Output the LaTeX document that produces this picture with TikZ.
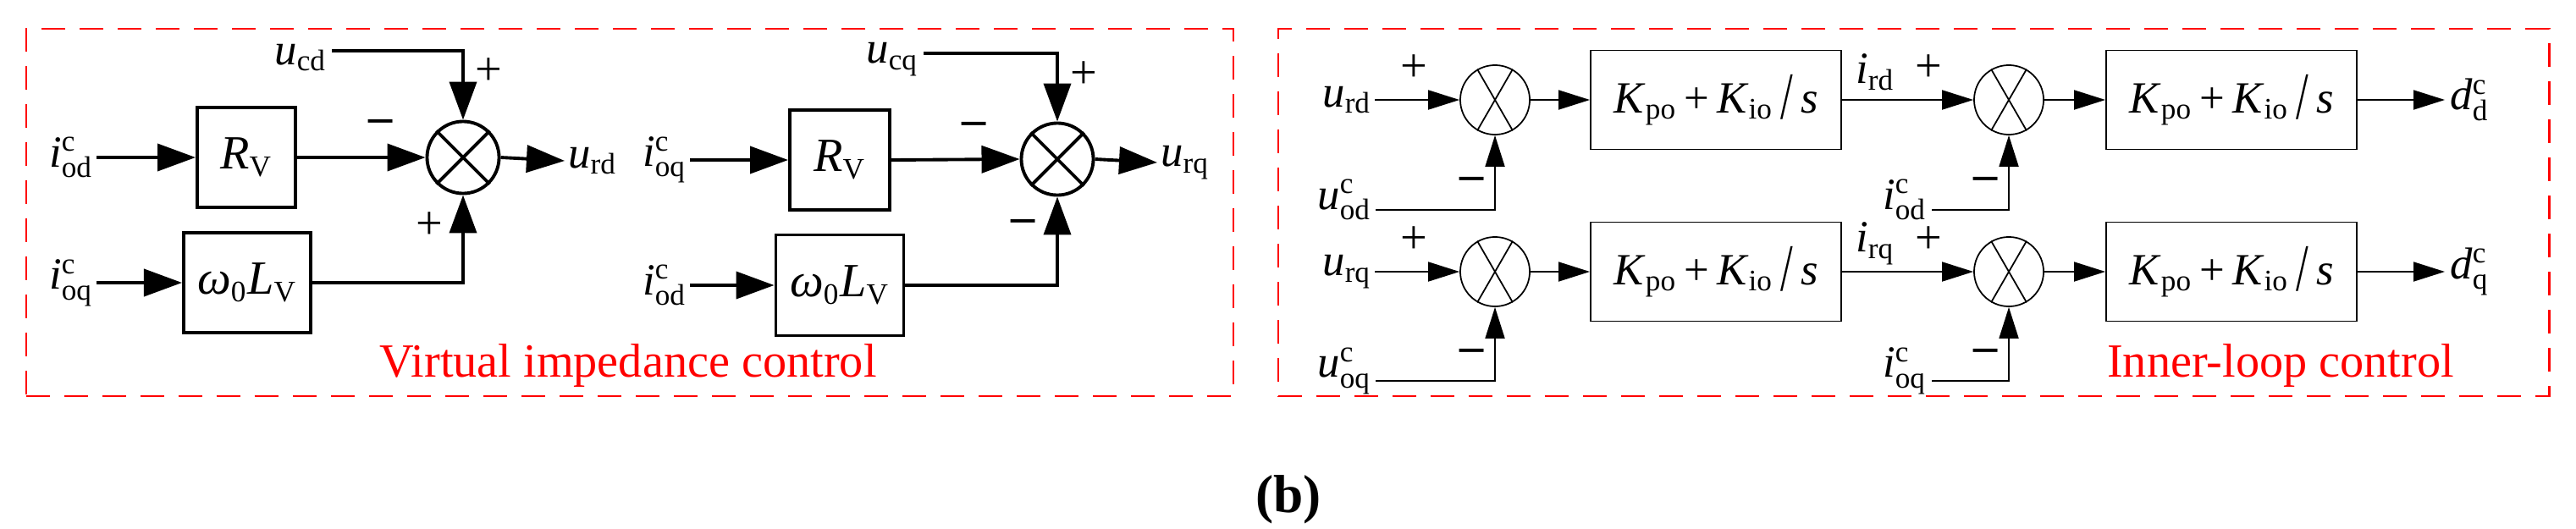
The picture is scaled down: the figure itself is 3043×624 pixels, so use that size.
\documentclass[tikz,border=0pt]{standalone}
\usepackage{fontspec}
\setmainfont{Liberation Serif}
\usetikzlibrary{arrows.meta}
\newcommand\ssz{\fontsize{10}{10}\selectfont}
\newcommand\sv[3]{\textit{#1}$^{\mbox{\ssz #2}}_{\mbox{\ssz #3}}$}
\newcommand\subv[2]{\textit{#1}$_{\mbox{\ssz #2}}$}
\newcommand\pit{\subv{K}{po}\,+\,\subv{K}{io}\,\raisebox{-2pt}{\scalebox{1}[1.5]{/}}\,\textit{s}}
\begin{document}
\begin{tikzpicture}[x=0.01cm,y=-0.01cm,
  lbl/.style={font=\fontsize{15}{17}\selectfont,inner sep=1pt},
  sgn/.style={font=\fontsize{16}{18}\selectfont,inner sep=0pt},
  thk/.style={line width=1.1pt},
  thn/.style={line width=0.5pt},
  bA/.style={-{Triangle[length=0.45cm,width=0.32cm]}},
  bB/.style={-{Triangle[length=0.37cm,width=0.23cm]}},
  sumA/.style={draw,circle,thk,minimum size=0.85cm,inner sep=0pt},
  sumB/.style={draw,circle,thn,minimum size=0.82cm,inner sep=0pt},
  blkA/.style={draw,thk,inner sep=0pt,font=\fontsize{16}{18}\selectfont},
  blkB/.style={draw,thn,minimum width=2.96cm,minimum height=1.17cm,inner sep=0pt,font=\fontsize{15}{17}\selectfont},
  panel/.style={draw=red,line width=0.6pt,dash pattern=on 0.28cm off 0.17cm},
  title/.style={text=red,font=\fontsize{16}{18}\selectfont}]
\useasboundingbox (0,0) rectangle (3043,624);
% panels
\node[panel,minimum width=14.26cm,minimum height=4.34cm] (P1) at (744,251) {};
\node[panel,minimum width=15.01cm,minimum height=4.34cm] (P2) at (2260.5,251) {};
\node[title] (T1) at (742,432) {Virtual impedance control};
\node[title] (T2) at (2694,432) {Inner-loop control};
\node[font=\bfseries\fontsize{18}{20}\selectfont] (bl) at (1522,590) {(b)};
% ---------- group A
\node[sumA] (c1) at (547,186) {};
\draw[thk] (c1.45)--(c1.225) (c1.135)--(c1.315);
\node[blkA,minimum width=1.16cm,minimum height=1.18cm] (R1) at (291,186) {\subv{R}{V}};
\node[blkA,minimum width=1.50cm,minimum height=1.18cm] (W1) at (292,334) {\textit{ω}$_{\mbox{\ssz 0}}$\subv{L}{V}};
\node[lbl,anchor=east] (i1) at (114,186) {\sv{i}{c}{od}};
\node[lbl,anchor=east] (i2) at (114,334) {\sv{i}{c}{oq}};
\node[lbl,anchor=east] (ucd) at (390,68) {\subv{u}{cd}};
\coordinate (k1) at (392,60);
\node[lbl,anchor=west] (urd) at (667,190) {\subv{u}{rd}};
\draw[thk,bA] (i1.east) -- (R1.west);
\draw[thk,bA] (i2.east) -- (W1.west);
\draw[thk,bA] (R1.east) -- (c1.west);
\draw[thk,bA] (k1) -| (c1.north);
\draw[thk,bA] (W1.east) -| (c1.south);
\draw[thk,bA] (c1.east) -- (urd.west);
\node[sgn] (m1) at (450,149) {\textbf{–}};
\node[sgn] (p1) at (577,85) {+};
\node[sgn] (p2) at (507,267) {+};
% ---------- group B
\node[sumA] (c2) at (1249,188) {};
\draw[thk] (c2.45)--(c2.225) (c2.135)--(c2.315);
\node[blkA,minimum width=1.18cm,minimum height=1.18cm] (R2) at (992,189) {\subv{R}{V}};
\node[blkA,minimum width=1.51cm,minimum height=1.19cm] (W2) at (992,337) {\textit{ω}$_{\mbox{\ssz 0}}$\subv{L}{V}};
\node[lbl,anchor=east] (i3) at (815,189) {\sv{i}{c}{oq}};
\node[lbl,anchor=east] (i4) at (815,337) {\sv{i}{c}{od}};
\node[lbl,anchor=east] (ucq) at (1089,70) {\subv{u}{cq}};
\coordinate (k2) at (1091,63);
\node[lbl,anchor=west] (urq) at (1367,192) {\subv{u}{rq}};
\draw[thk,bA] (i3.east) -- (R2.west);
\draw[thk,bA] (i4.east) -- (W2.west);
\draw[thk,bA] (R2.east) -- (c2.west);
\draw[thk,bA] (k2) -| (c2.north);
\draw[thk,bA] (W2.east) -| (c2.south);
\draw[thk,bA] (c2.east) -- (urq.west);
\node[sgn] (m2) at (1151,152) {\textbf{–}};
\node[sgn] (p3) at (1280,89) {+};
\node[sgn] (m3) at (1209,267) {\textbf{–}};
% ---------- inner loop
\foreach \r/\y/\ya/\yb/\ur/\uo/\ir/\io/\dd in {1/118/236/248/rd/od/rd/od/d, 2/321/438/450/rq/oq/rq/oq/q}{
  \node[sumB] (sa\r) at (1766,\y) {};
  \node[sumB] (sb\r) at (2373,\y) {};
  \draw[thn] (sa\r.60)--(sa\r.240) (sa\r.120)--(sa\r.300);
  \draw[thn] (sb\r.60)--(sb\r.240) (sb\r.120)--(sb\r.300);
  \node[blkB] (B\r) at (2027,\y) {\pit};
  \node[blkB] (C\r) at (2636,\y) {\pit};
  \node[lbl,anchor=east] (ur\r) at (1624,\y) {\subv{u}{\ur}};
  \node[lbl,anchor=east] (uo\r) at (1624,\ya) {\sv{u}{c}{\uo}};
  \coordinate (fa\r) at (1625,\yb);
  \node[lbl] (ir\r) at (2215,\y-33) {\subv{i}{\ir}};
  \node[lbl,anchor=east] (io\r) at (2280,\ya) {\sv{i}{c}{\io}};
  \coordinate (fb\r) at (2282,\yb);
  \coordinate (o\r) at (2888,\y);
  \node[lbl,anchor=west] (dd\r) at (2890,\y) {\sv{d}{c}{\dd}};
  \draw[thn,bB] (ur\r.east) -- (sa\r.west);
  \draw[thn,bB] (fa\r) -| (sa\r.south);
  \draw[thn,bB] (sa\r.east) -- (B\r.west);
  \draw[thn,bB] (B\r.east) -- (sb\r.west);
  \draw[thn,bB] (fb\r) -| (sb\r.south);
  \draw[thn,bB] (sb\r.east) -- (C\r.west);
  \draw[thn,bB] (C\r.east) -- (o\r);
  \node[sgn] at (1670,\y-37) {+};
  \node[sgn] at (2278,\y-37) {+};
  \node[sgn] at (1739,\y+99) {\textbf{–}};
  \node[sgn] at (2346,\y+99) {\textbf{–}};
}
\end{tikzpicture}
\end{document}
